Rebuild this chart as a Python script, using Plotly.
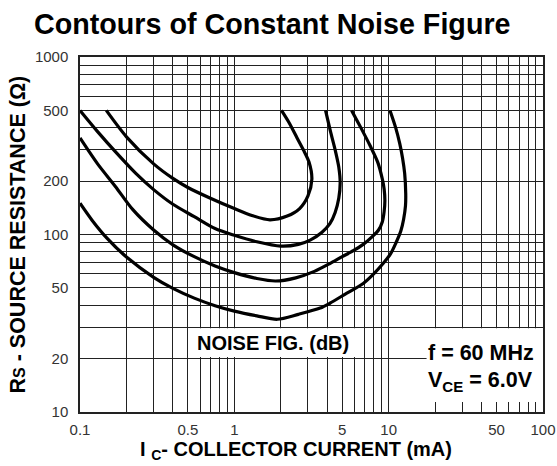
import plotly.graph_objects as go

# ---------------- data ----------------
# Collector current Ic (mA) and source resistance Rs (ohm) along each contour
curve1_ic = [0.148, 0.2, 0.3, 0.4, 0.5, 0.7, 1.0, 1.3, 1.7, 2.2, 2.65, 3.0, 3.18, 3.05, 2.8, 2.55, 2.25, 2.02]
curve1_rs = [500, 355, 250, 207, 184, 160, 140, 128, 121, 127, 140, 165, 205, 255, 300, 350, 430, 500]

curve2_ic = [0.1, 0.13, 0.17, 0.23, 0.3, 0.4, 0.55, 0.75, 1.0, 1.4, 2.0, 2.6, 3.1, 3.7, 4.16, 4.5, 4.75, 4.85, 4.75, 4.5, 4.2, 3.9]
curve2_rs = [500, 380, 292, 221, 179, 148, 126, 108, 99, 91, 86, 88, 93, 103, 115, 133, 160, 195, 240, 300, 380, 500]

curve3_ic = [0.1, 0.13, 0.17, 0.22, 0.3, 0.4, 0.55, 0.75, 1.0, 1.4, 1.85, 2.5, 3.3, 4.16, 5.0, 5.9, 6.84, 7.8, 8.6, 9.1, 9.35, 9.45, 9.35, 9.1, 8.5, 7.6, 6.6, 5.75]
curve3_rs = [350, 250, 186, 138, 106, 87.5, 75, 66.5, 61, 56.5, 54.7, 57, 62, 68.6, 75, 81, 88, 97, 106, 118, 135, 155, 180, 205, 255, 315, 400, 500]

curve4_ic = [0.1, 0.12, 0.15, 0.2, 0.3, 0.4, 0.55, 0.75, 1.0, 1.4, 1.9, 2.6, 3.6, 4.16, 5.2, 6.84, 8.0, 9.2, 10.3, 11.1, 12.0, 12.5, 12.85, 12.9, 12.7, 12.3, 11.8, 11.1, 10.2]
curve4_rs = [150, 120, 95, 74.6, 57.4, 49.7, 43.8, 39.7, 37, 34.8, 33.3, 35.5, 38.5, 41, 46, 53, 60, 68.6, 78, 89, 105, 122, 145, 170, 220, 270, 325, 400, 500]

curves = [(curve1_ic, curve1_rs), (curve2_ic, curve2_rs), (curve3_ic, curve3_rs), (curve4_ic, curve4_rs)]

x_label_values = [0.1, 0.5, 1, 5, 10, 50, 100]
x_label_text = ["0.1", "0.5", "1", "5", "10", "50", "100"]
y_label_values = [10, 20, 50, 100, 200, 500, 1000]
y_label_text = ["10", "20", "50", "100", "200", "500", "1000"]

title_text = "Contours of Constant Noise Figure"
x_title = "I <sub>C</sub>- COLLECTOR CURRENT (mA)"
y_title = "R<span style='font-size:16px'>S</span> - SOURCE RESISTANCE (Ω)"
box_label = "NOISE FIG. (dB)"
cond_line1 = "f = 60 MHz"
cond_line2 = "V<sub>CE</sub> = 6.0V"

# ---------------- layout geometry (window pixels) ----------------
W, H = 557, 466
PLOT_L, PLOT_R, PLOT_T, PLOT_B = 80, 543, 57, 412
L, T, R, B = PLOT_L, PLOT_T, W - PLOT_R, H - PLOT_B
PW, PH = PLOT_R - PLOT_L, PLOT_B - PLOT_T


def px(xw):
    return (xw - PLOT_L) / PW


def py(yw):
    return (PLOT_B - yw) / PH


def log_grid(lo_exp, hi_exp):
    vals = []
    for e in range(lo_exp, hi_exp):
        for k in range(1, 10):
            vals.append(round(k * 10 ** e, 6))
    vals.append(round(10 ** hi_exp, 6))
    return vals


x_minor = [v for v in log_grid(-1, 2) if v not in x_label_values]
y_minor = [v for v in log_grid(1, 3) if v not in y_label_values]

FONT = "Liberation Sans, Arial, sans-serif"
GRID = "#222222"

fig = go.Figure()
for ic, rs in curves:
    fig.add_trace(go.Scatter(
        x=ic, y=rs, mode="lines",
        line=dict(color="black", width=3.2, shape="spline", smoothing=0.8),
        showlegend=False, hoverinfo="skip",
    ))

axis_common = dict(
    type="log", showgrid=True, gridcolor=GRID, gridwidth=1,
    showline=True, linecolor="#222", linewidth=1.5, mirror=True,
    ticks="", zeroline=False, automargin=False,
    tickfont=dict(family=FONT, size=15, color="#333"),
)

fig.update_xaxes(range=[-1, 2], tickmode="array", tickvals=x_label_values, ticktext=x_label_text,
                 ticklabelstandoff=3,
                 minor=dict(tickmode="array", tickvals=x_minor, showgrid=True,
                            gridcolor=GRID, gridwidth=1, ticks=""),
                 **axis_common)
fig.update_yaxes(range=[1, 3], tickmode="array", tickvals=y_label_values, ticktext=y_label_text,
                 ticklabelstandoff=7,
                 minor=dict(tickmode="array", tickvals=y_minor, showgrid=True,
                            gridcolor=GRID, gridwidth=1, ticks=""),
                 **axis_common)

# white label boxes hiding the grid
fig.add_shape(type="rect", xref="x", yref="y", x0=0.556, x1=6.5, y0=20.4, y1=29.6,
              fillcolor="white", line=dict(width=0), layer="between")
fig.add_shape(type="rect", xref="x", yref="y", x0=17.6, x1=100, y0=11.4, y1=29.6,
              fillcolor="white", line=dict(width=0), layer="between")

bold = dict(family=FONT, color="black", weight="bold")
ann = [
    dict(text=title_text, x=px(272.5), y=py(24), font=dict(size=28.7, **bold),
         xanchor="center", yanchor="middle"),
    dict(text=x_title, x=px(138), y=py(450.5), font=dict(size=20, **bold),
         xanchor="left", yanchor="middle"),
    dict(text=y_title, x=px(17.5), y=py(235), textangle=-90, font=dict(size=21.5, **bold),
         xanchor="center", yanchor="middle"),
    dict(text=box_label, x=px(195), y=py(343), font=dict(size=20, **bold),
         xanchor="left", yanchor="middle"),
    dict(text=cond_line1, x=px(426), y=py(353), font=dict(size=21.5, **bold),
         xanchor="left", yanchor="middle"),
    dict(text=cond_line2, x=px(426), y=py(381), font=dict(size=21.5, **bold),
         xanchor="left", yanchor="middle"),
]
for a in ann:
    fig.add_annotation(xref="paper", yref="paper", showarrow=False, **a)

fig.update_layout(
    width=W, height=H,
    margin=dict(l=L, r=R, t=T, b=B),
    paper_bgcolor="white", plot_bgcolor="white",
    showlegend=False,
)

# remove the default 8px page margin so the figure fills the window exactly
fig.write_html(
    "out.html",
    config={"displayModeBar": False},
    post_script="document.body.style.margin='0';document.body.style.overflow='hidden';",
)
